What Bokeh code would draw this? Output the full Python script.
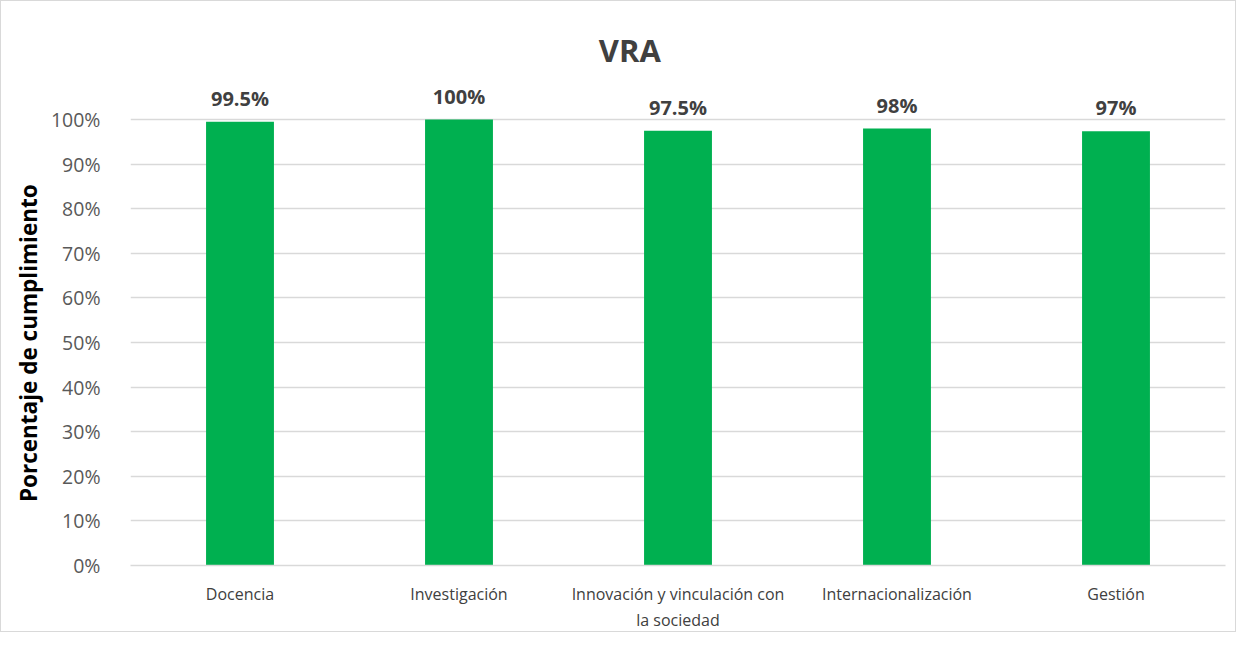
from bokeh.plotting import figure
from bokeh.models import ColumnDataSource, LabelSet, Label, FixedTicker, Range1d
from bokeh.core.properties import value
from bokeh.embed import file_html
from bokeh.resources import INLINE

categories = ["Docencia", "Investigación", "Innovación y vinculación con\nla sociedad",
              "Internacionalización", "Gestión"]
values = [0.995, 1.0, 0.975, 0.98, 0.974]
value_labels = ["99.5%", "100%", "97.5%", "98%", "97%"]
y_ticks = [0, 0.1, 0.2, 0.3, 0.4, 0.5, 0.6, 0.7, 0.8, 0.9, 1.0]
y_tick_labels = ["0%", "10%", "20%", "30%", "40%", "50%", "60%", "70%", "80%", "90%", "100%"]

FONT = "Open Sans"

src = ColumnDataSource(dict(cat=categories, val=values, lab=value_labels))

p = figure(x_range=categories, y_range=Range1d(0, 1.22), width=1236, height=632,
           output_backend="svg", toolbar_location=None,
           min_border_left=129, min_border_right=12, min_border_top=20, min_border_bottom=61)
p.styles = {"border": "1px solid #d9d9d9"}

p.vbar(x="cat", top="val", width=0.31, source=src, color="#00B050", line_color=None)

labels = LabelSet(x="cat", y="val", text="lab", source=src, text_align="center",
                  text_baseline="bottom", y_offset=10, text_font=value(FONT),
                  text_font_size="20px", text_font_style="bold", text_color="#404040")
p.add_layout(labels)

title = Label(x=2.28, y=1.155, text="VRA", text_align="center", text_baseline="middle",
              text_font=FONT, text_font_size="31px", text_font_style="bold",
              text_color="#404040")
p.add_layout(title)

p.outline_line_color = None
p.xgrid.grid_line_color = None
p.ygrid.grid_line_color = "#d9d9d9"
p.ygrid.grid_line_width = 1.5

p.yaxis.ticker = FixedTicker(ticks=y_ticks)
p.yaxis.major_label_overrides = {t: l for t, l in zip(y_ticks, y_tick_labels)}
p.yaxis.axis_line_color = None
p.yaxis.major_tick_line_color = None
p.yaxis.minor_tick_line_color = None
p.yaxis.major_label_standoff = 24
p.yaxis.major_label_text_font = FONT
p.yaxis.major_label_text_font_size = "19.5px"
p.yaxis.major_label_text_color = "#595959"
# trailing no-break spaces shift the centred label down to the middle of the 0-100% span
p.yaxis.axis_label = "Porcentaje de cumplimiento" + "\u00a0" * 17
p.yaxis.axis_label_text_font = FONT
p.yaxis.axis_label_text_font_size = "22.5px"
p.yaxis.axis_label_text_font_style = "bold"
p.yaxis.axis_label_text_color = "#000000"
p.yaxis.axis_label_standoff = 4

p.xaxis.axis_line_color = "#d9d9d9"
p.xaxis.axis_line_width = 1.5
p.xaxis.major_tick_line_color = None
p.xaxis.minor_tick_line_color = None
p.xaxis.major_label_standoff = 11
p.xaxis.major_label_text_font = FONT
p.xaxis.major_label_text_font_size = "16px"
p.xaxis.major_label_text_color = "#404040"

p.x_range.range_padding = 0

open("out.html", "w").write(file_html(p, INLINE))
